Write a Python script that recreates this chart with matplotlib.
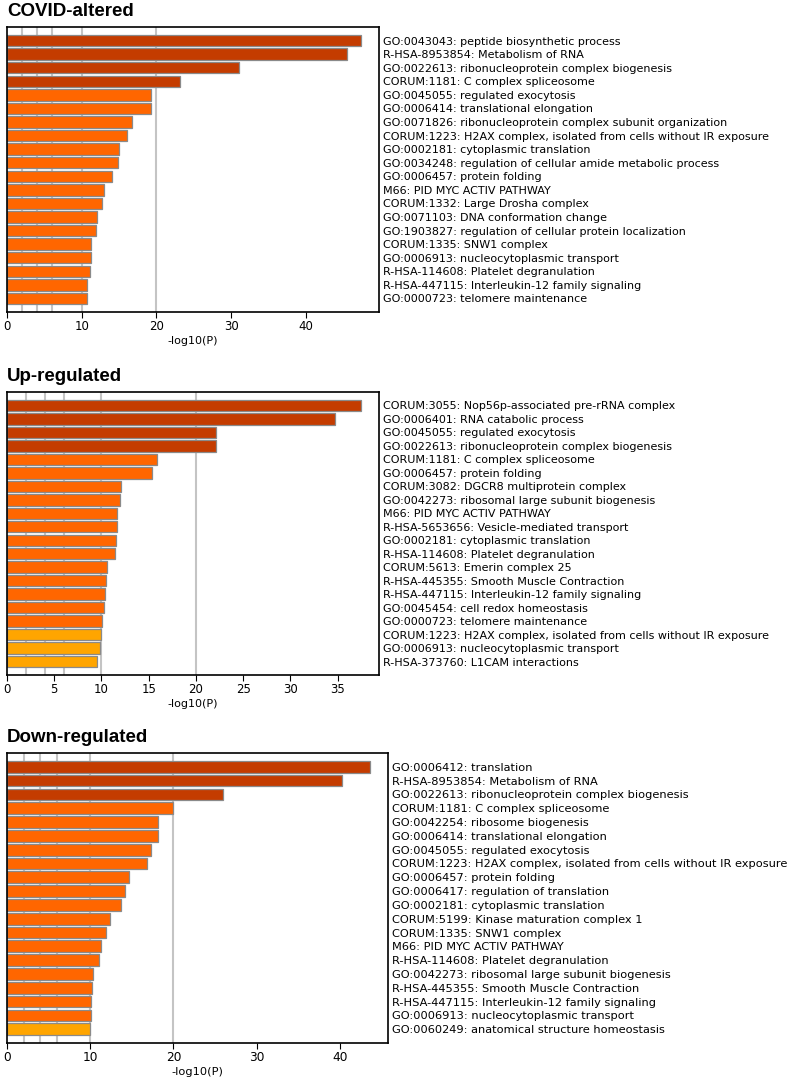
import matplotlib
matplotlib.use("Agg")
import matplotlib.pyplot as plt

# COVID-altered
covid_terms = [
    "GO:0043043: peptide biosynthetic process",
    "R-HSA-8953854: Metabolism of RNA",
    "GO:0022613: ribonucleoprotein complex biogenesis",
    "CORUM:1181: C complex spliceosome",
    "GO:0045055: regulated exocytosis",
    "GO:0006414: translational elongation",
    "GO:0071826: ribonucleoprotein complex subunit organization",
    "CORUM:1223: H2AX complex, isolated from cells without IR exposure",
    "GO:0002181: cytoplasmic translation",
    "GO:0034248: regulation of cellular amide metabolic process",
    "GO:0006457: protein folding",
    "M66: PID MYC ACTIV PATHWAY",
    "CORUM:1332: Large Drosha complex",
    "GO:0071103: DNA conformation change",
    "GO:1903827: regulation of cellular protein localization",
    "CORUM:1335: SNW1 complex",
    "GO:0006913: nucleocytoplasmic transport",
    "R-HSA-114608: Platelet degranulation",
    "R-HSA-447115: Interleukin-12 family signaling",
    "GO:0000723: telomere maintenance",
]
covid_vals = [47.4, 45.5, 31.1, 23.1, 19.3, 19.2, 16.7, 16.1, 15.0, 14.8,
              14.1, 13.0, 12.7, 12.0, 11.9, 11.2, 11.2, 11.1, 10.7, 10.7]

# Up-regulated
up_terms = [
    "CORUM:3055: Nop56p-associated pre-rRNA complex",
    "GO:0006401: RNA catabolic process",
    "GO:0045055: regulated exocytosis",
    "GO:0022613: ribonucleoprotein complex biogenesis",
    "CORUM:1181: C complex spliceosome",
    "GO:0006457: protein folding",
    "CORUM:3082: DGCR8 multiprotein complex",
    "GO:0042273: ribosomal large subunit biogenesis",
    "M66: PID MYC ACTIV PATHWAY",
    "R-HSA-5653656: Vesicle-mediated transport",
    "GO:0002181: cytoplasmic translation",
    "R-HSA-114608: Platelet degranulation",
    "CORUM:5613: Emerin complex 25",
    "R-HSA-445355: Smooth Muscle Contraction",
    "R-HSA-447115: Interleukin-12 family signaling",
    "GO:0045454: cell redox homeostasis",
    "GO:0000723: telomere maintenance",
    "CORUM:1223: H2AX complex, isolated from cells without IR exposure",
    "GO:0006913: nucleocytoplasmic transport",
    "R-HSA-373760: L1CAM interactions",
]
up_vals = [37.5, 34.7, 22.1, 22.1, 15.9, 15.3, 12.1, 12.0, 11.6, 11.6,
           11.5, 11.4, 10.6, 10.5, 10.4, 10.3, 10.1, 9.9, 9.8, 9.5]

# Down-regulated
down_terms = [
    "GO:0006412: translation",
    "R-HSA-8953854: Metabolism of RNA",
    "GO:0022613: ribonucleoprotein complex biogenesis",
    "CORUM:1181: C complex spliceosome",
    "GO:0042254: ribosome biogenesis",
    "GO:0006414: translational elongation",
    "GO:0045055: regulated exocytosis",
    "CORUM:1223: H2AX complex, isolated from cells without IR exposure",
    "GO:0006457: protein folding",
    "GO:0006417: regulation of translation",
    "GO:0002181: cytoplasmic translation",
    "CORUM:5199: Kinase maturation complex 1",
    "CORUM:1335: SNW1 complex",
    "M66: PID MYC ACTIV PATHWAY",
    "R-HSA-114608: Platelet degranulation",
    "GO:0042273: ribosomal large subunit biogenesis",
    "R-HSA-445355: Smooth Muscle Contraction",
    "R-HSA-447115: Interleukin-12 family signaling",
    "GO:0006913: nucleocytoplasmic transport",
    "GO:0060249: anatomical structure homeostasis",
]
down_vals = [43.6, 40.3, 26.0, 19.9, 18.2, 18.1, 17.3, 16.8, 14.6, 14.2,
             13.7, 12.4, 11.9, 11.3, 11.0, 10.3, 10.25, 10.15, 10.15, 9.95]

W, H = 789, 1081
fig = plt.figure(figsize=(W / 100, H / 100), dpi=100)


def color_for(v):
    if v >= 20:
        return "#C43C00"
    if v >= 10:
        return "#FF6600"
    return "#FFA500"


def panel(title, terms, vals, box, ticks, fs=8):
    # box = left, top, right, bottom in pixels
    l, t, r, b = box
    ax = fig.add_axes([l / W, 1 - b / H, (r - l) / W, (b - t) / H])
    n = len(vals)
    for g in [2, 4, 6, 10, 20]:
        ax.axvline(g, color="#c4c4c4", lw=1.5, zorder=0)
    ax.barh(range(n), vals, height=0.85, color=[color_for(v) for v in vals],
            edgecolor="#8a8a8a", linewidth=0.9, zorder=2)
    ax.set_xlim(0, max(vals) * 1.05)
    ax.set_ylim(n, -1)
    ax.set_xticks(ticks)
    ax.tick_params(axis="x", labelsize=fs + 0.5, length=4, width=0.8, pad=2)
    ax.set_yticks(range(n))
    ax.set_yticklabels(terms, fontsize=fs)
    ax.yaxis.tick_right()
    ax.tick_params(axis="y", length=0, pad=3)
    ax.set_xlabel("-log10(P)", fontsize=fs, labelpad=2)
    for s in ax.spines.values():
        s.set_linewidth(1.2)
    ax.set_title(title, loc="left", fontsize=13.5, fontweight="bold",
                 family="Liberation Sans", pad=8)
    return ax


panel("COVID-altered", covid_terms, covid_vals, (7, 27, 379, 312), [0, 10, 20, 30, 40])
panel("Up-regulated", up_terms, up_vals, (7, 392, 379, 675), [0, 5, 10, 15, 20, 25, 30, 35])
panel("Down-regulated", down_terms, down_vals, (7, 753, 388, 1043), [0, 10, 20, 30, 40], fs=8.2)

fig.savefig("out.png", dpi=100)
